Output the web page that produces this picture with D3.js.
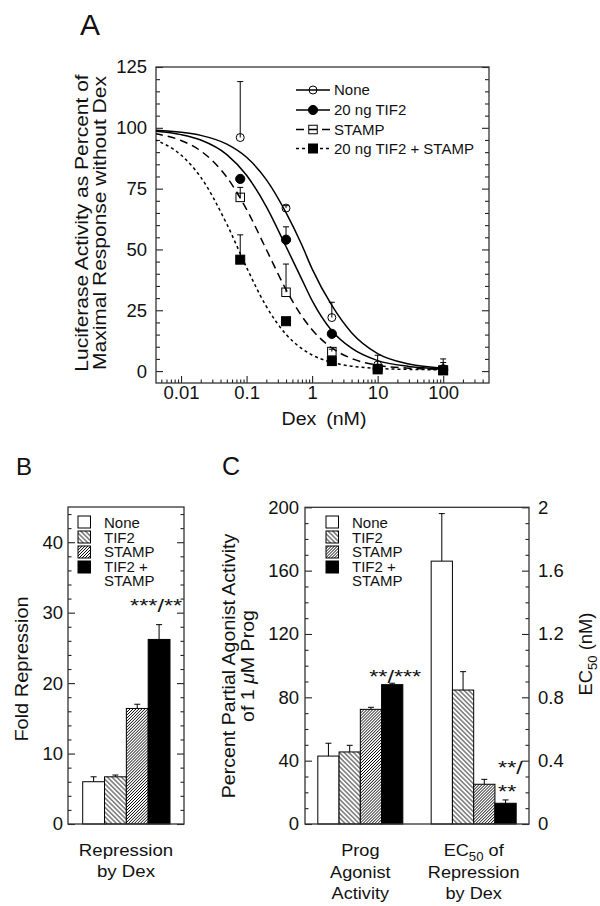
<!DOCTYPE html>
<html>
<head>
<meta charset="utf-8">
<script src="https://cdn.jsdelivr.net/npm/d3@7"></script>
<style>
  body { margin: 0; background: #fff; }
  svg { display: block; }
  text { font-family: "Liberation Sans", Arial, Helvetica, sans-serif; fill: #111; }
</style>
</head>
<body>
<div id="chart"></div>
<script>
// ---- panel A: dose response to Dex (nM) ----
const doses = [0.08, 0.4, 2, 10, 100];
const seriesNames = ["None", "20 ng TIF2", "STAMP", "20 ng TIF2 + STAMP"];
const noneVals = [96, 67, 22, 2.5, 1];
const noneErrTop = [119, 68, 28.3, 6.5, 5];
const tif2Vals = [79, 54, 15.3, 1, 0.5];
const tif2ErrTop = [80, 59.3, 16, 2, 3.5];
const stampVals = [71.4, 32.4, 8, 1, 0.3];
const stampErrTop = [75.5, 44, 9, 1.5, 1];
const bothVals = [45.8, 20.5, 4.1, 0.7, 0.3];
const bothErrTop = [56, 21, 5, 2, 1];

// fitted curves
const curveDoses = [0.004, 0.01, 0.02, 0.05, 0.1, 0.2, 0.4, 0.7, 1, 2, 4, 10, 30, 100];
const noneCurve = [99.0, 98.2, 96.9, 93.3, 87.9, 78.7, 65.1, 51.7, 42.0, 27.0, 15.8, 7.2, 2.9, 1.2];
const tif2Curve = [98.6, 97.2, 95.0, 89.0, 80.5, 67.6, 51.2, 37.6, 29.0, 16.6, 9.4, 4.3, 1.9, 0.9];
const stampCurve = [97.6, 94.8, 90.5, 79.7, 66.5, 50.0, 33.5, 22.5, 17.0, 9.5, 5.2, 2.4, 1.2, 0.7];
const bothCurve = [95.1, 88.8, 79.7, 60.4, 42.6, 26.6, 15.1, 9.2, 6.6, 3.6, 2.0, 1.1, 0.7, 0.55];

const xTicksA = [0.01, 0.1, 1, 10, 100];
const xTickLabelsA = ["0.01", "0.1", "1", "10", "100"];
const yTicksA = [0, 25, 50, 75, 100, 125];

// ---- panel B / C bars ----
const groups = ["None", "TIF2", "STAMP", "TIF2 + STAMP"];
const foldRep = [6.0, 6.7, 16.4, 26.2];
const foldRepErr = [0.7, 0.25, 0.6, 2.1];
const yTicksB = [0, 10, 20, 30, 40];

const cGroups = ["agonist", "ec50"];
const progAgonist = [42.9, 45.5, 72.4, 88.0];
const progAgonistErr = [8.1, 4.2, 1.3, 0.9];
const ec50 = [1.66, 0.846, 0.251, 0.131];
const ec50Err = [0.30, 0.116, 0.031, 0.021];
const yTicksC = [0, 40, 80, 120, 160, 200];
const yTicksC2 = [0, 0.4, 0.8, 1.2, 1.6, 2];
const yTickLabelsC2 = ["0", "0.4", "0.8", "1.2", "1.6", "2"];

const W = 600, H = 906;
const TICK_FS = 18.5;
const svg = d3.select("#chart").append("svg").attr("width", W).attr("height", H);
const defs = svg.append("defs");

// hatch patterns for TIF2 (\\\) and STAMP (///)
function hatch(id, angle, gap, w) {
  const p = defs.append("pattern").attr("id", id)
    .attr("patternUnits", "userSpaceOnUse")
    .attr("width", gap).attr("height", gap)
    .attr("patternTransform", `rotate(${angle})`);
  p.append("rect").attr("width", gap).attr("height", gap).attr("fill", "#fff");
  p.append("line").attr("x1", 0).attr("x2", gap).attr("y1", gap / 2).attr("y2", gap / 2)
    .attr("stroke", "#000").attr("stroke-width", w);
}
hatch("tif2Hatch", 45, 3.3, 0.8);
hatch("stampHatch", -45, 2.1, 0.7);
const barFills = ["#fff", "url(#tif2Hatch)", "url(#stampHatch)", "#000"];

function addText(g, x, y, size, opts) {
  opts = opts || {};
  return g.append("text")
    .attr("transform", `translate(${x},${y}) rotate(${opts.rot || 0}) scale(${opts.sx || 1},1)`)
    .attr("text-anchor", opts.anchor || "middle")
    .style("font-size", size + "px");
}

function styleAxis(g, size, sx) {
  g.select(".domain").remove();
  g.selectAll(".tick line").attr("stroke", "#222").attr("stroke-width", 1.1);
  g.selectAll(".tick text").style("font-size", size + "px").attr("fill", "#111")
    .attr("transform", `scale(${sx},1)`);
}

function frame(g, x0, y0, x1, y1) {
  g.append("rect").attr("x", x0).attr("y", y0).attr("width", x1 - x0).attr("height", y1 - y0)
    .attr("fill", "none").attr("stroke", "#333").attr("stroke-width", 1.3);
}

// ================= A =================
const xA = d3.scaleLog().domain([0.00415, 500]).range([156, 489]);
const yA = d3.scaleLinear().domain([-4.9, 125]).range([383, 67]);
const gA = svg.append("g");

const minorXA = xA.ticks().filter(v => !xTicksA.includes(v) && v < 480);
gA.append("g").attr("transform", "translate(0,383)")
  .call(d3.axisBottom(xA).tickValues(xTicksA).tickSize(-7).tickPadding(3).tickFormat((d, i) => xTickLabelsA[i]))
  .call(g => styleAxis(g, TICK_FS, 1));
gA.append("g").attr("transform", "translate(0,383)")
  .call(d3.axisBottom(xA).tickValues(minorXA).tickSize(-3.5).tickFormat(""))
  .call(g => styleAxis(g, TICK_FS, 1));

const minorYA = d3.range(0, 126, 5).filter(v => v % 25 !== 0);
gA.append("g").attr("transform", "translate(156,0)")
  .call(d3.axisLeft(yA).tickValues(yTicksA).tickSize(-7).tickPadding(9))
  .call(g => styleAxis(g, TICK_FS, 1));
gA.append("g").attr("transform", "translate(156,0)")
  .call(d3.axisLeft(yA).tickValues(minorYA).tickSize(-4).tickFormat(""))
  .call(g => styleAxis(g, TICK_FS, 1));
gA.append("g").attr("transform", "translate(489,0)")
  .call(d3.axisRight(yA).tickValues(yTicksA).tickSize(-7).tickFormat(""))
  .call(g => styleAxis(g, TICK_FS, 1));
gA.append("g").attr("transform", "translate(489,0)")
  .call(d3.axisRight(yA).tickValues(minorYA).tickSize(-4).tickFormat(""))
  .call(g => styleAxis(g, TICK_FS, 1));
frame(gA, 156, 67, 489, 383);

defs.append("clipPath").attr("id", "clipA").append("rect")
  .attr("x", 156).attr("y", 67).attr("width", 333).attr("height", 316);

const curves = [noneCurve, tif2Curve, stampCurve, bothCurve];
const valsA = [noneVals, tif2Vals, stampVals, bothVals];
const errA = [noneErrTop, tif2ErrTop, stampErrTop, bothErrTop];
const dashA = [null, null, "8,5", "3,3"];
const shapeA = ["circle", "circle", "square", "square"];
const filledA = [false, true, false, true];

const lineA = d3.line()
  .x((d, i) => xA(curveDoses[i]))
  .y(d => yA(d))
  .curve(d3.curveMonotoneX);

const plotA = gA.append("g").attr("clip-path", "url(#clipA)");
curves.forEach((c, s) => {
  plotA.append("path").datum(c).attr("d", lineA)
    .attr("fill", "none").attr("stroke", "#000").attr("stroke-width", 1.5)
    .attr("stroke-dasharray", dashA[s]);
});

function marker(g, shape, filled, cx, cy) {
  if (shape === "circle") {
    g.append("circle").attr("cx", cx).attr("cy", cy).attr("r", filled ? 4.6 : 4)
      .attr("fill", filled ? "#000" : "none").attr("stroke", "#000").attr("stroke-width", 1);
  } else {
    const s = filled ? 9 : 8.5;
    g.append("rect").attr("x", cx - s / 2).attr("y", cy - s / 2).attr("width", s).attr("height", s)
      .attr("fill", filled ? "#000" : "none").attr("stroke", "#000").attr("stroke-width", 1);
  }
}

valsA.forEach((vals, s) => {
  vals.forEach((v, i) => {
    const cx = xA(doses[i]);
    const top = yA(errA[s][i]);
    plotA.append("line").attr("x1", cx).attr("x2", cx).attr("y1", yA(v)).attr("y2", top)
      .attr("stroke", "#000").attr("stroke-width", 1);
    plotA.append("line").attr("x1", cx - 3).attr("x2", cx + 3).attr("y1", top).attr("y2", top)
      .attr("stroke", "#000").attr("stroke-width", 1);
  });
});
valsA.forEach((vals, s) => {
  vals.forEach((v, i) => marker(plotA, shapeA[s], filledA[s], xA(doses[i]), yA(v)));
});

// legend A
const legRowsA = [90, 110, 129.5, 148.5];
seriesNames.forEach((name, s) => {
  const y = legRowsA[s];
  gA.append("line").attr("x1", 296).attr("x2", 330).attr("y1", y).attr("y2", y)
    .attr("stroke", "#000").attr("stroke-width", 1.3).attr("stroke-dasharray", dashA[s]);
  marker(gA, shapeA[s], filledA[s], 313, y);
  addText(gA, 334, y + 5.3, 15, { anchor: "start" }).text(name);
});

addText(gA, 90, 35, 30, { anchor: "middle" }).text("A");
addText(gA, 88, 223, 17.5, { rot: -90, sx: 1.2 }).text("Luciferase Activity as Percent of");
addText(gA, 106, 223, 17.5, { rot: -90, sx: 1.2 }).text("Maximal Response without Dex");
addText(gA, 324, 425, 17.5, { sx: 1.12 }).text("Dex\u2002(nM)");

// ================= B =================
const gB = svg.append("g");
const xB = d3.scaleBand().domain(groups).range([82.7, 170]);
const yB = d3.scaleLinear().domain([0, 45]).range([824, 507]);
const minorYB = d3.range(0, 45, 2).filter(v => v % 10 !== 0);

gB.append("g").attr("transform", "translate(68,0)")
  .call(d3.axisLeft(yB).tickValues(yTicksB).tickSize(-7).tickPadding(5))
  .call(g => styleAxis(g, TICK_FS, 1));
gB.append("g").attr("transform", "translate(68,0)")
  .call(d3.axisLeft(yB).tickValues(minorYB).tickSize(-3.5).tickFormat(""))
  .call(g => styleAxis(g, TICK_FS, 1));
gB.append("g").attr("transform", "translate(184,0)")
  .call(d3.axisRight(yB).tickValues(yTicksB).tickSize(-7).tickFormat(""))
  .call(g => styleAxis(g, TICK_FS, 1));
gB.append("g").attr("transform", "translate(184,0)")
  .call(d3.axisRight(yB).tickValues(minorYB).tickSize(-3.5).tickFormat(""))
  .call(g => styleAxis(g, TICK_FS, 1));

function errBar(g, cx, yTop, yErr) {
  g.append("line").attr("x1", cx).attr("x2", cx).attr("y1", yTop).attr("y2", yErr)
    .attr("stroke", "#000").attr("stroke-width", 1);
  g.append("line").attr("x1", cx - 3).attr("x2", cx + 3).attr("y1", yErr).attr("y2", yErr)
    .attr("stroke", "#000").attr("stroke-width", 1);
}

groups.forEach((grp, i) => {
  const x0 = xB(grp), bw = xB.bandwidth();
  errBar(gB, x0 + bw / 2, yB(foldRep[i]), yB(foldRep[i] + foldRepErr[i]));
  gB.append("rect").attr("x", x0).attr("y", yB(foldRep[i]))
    .attr("width", bw).attr("height", yB(0) - yB(foldRep[i]))
    .attr("fill", barFills[i]).attr("stroke", "#000").attr("stroke-width", 1);
});
frame(gB, 68, 507, 184, 824);

function barLegend(g, sx, tx) {
  const swY = [516, 531, 546, 561];
  const rows = ["None", "TIF2", "STAMP", "TIF2 +", "STAMP"];
  const baseY = [528, 543, 557, 572, 586];
  groups.forEach((grp, i) => {
    g.append("rect").attr("x", sx).attr("y", swY[i]).attr("width", 12.5).attr("height", 12)
      .attr("fill", barFills[i]).attr("stroke", "#000").attr("stroke-width", 1);
  });
  rows.forEach((r, i) => addText(g, tx, baseY[i], 15, { anchor: "start" }).text(r));
}
barLegend(gB, 78, 104);

addText(gB, xB("TIF2 + STAMP") + xB.bandwidth() / 2 - 3, 612, 18, { sx: 1.3 }).text("***/**");
addText(gB, 24, 475, 24, { anchor: "middle" }).text("B");
addText(gB, 28, 669, 17.5, { rot: -90, sx: 1.14 }).text("Fold Repression");
addText(gB, 126, 856, 16.5, { sx: 1.13 }).text("Repression");
addText(gB, 126, 877, 16.5, { sx: 1.13 }).text("by Dex");

// ================= C =================
const gC = svg.append("g");
const xC = d3.scaleBand().domain(cGroups).range([305, 529]).paddingInner(0.25).paddingOuter(0.113);
const xCin = d3.scaleBand().domain(groups).range([0, xC.bandwidth()]);
const yC = d3.scaleLinear().domain([0, 200]).range([824, 507.3]);
const yC2 = d3.scaleLinear().domain([0, 2]).range([824, 507.3]);
const minorYC = d3.range(0, 201, 10).filter(v => v % 40 !== 0);
const minorYC2 = minorYC.map(v => v / 100);

gC.append("g").attr("transform", "translate(305,0)")
  .call(d3.axisLeft(yC).tickValues(yTicksC).tickSize(-7).tickPadding(6))
  .call(g => styleAxis(g, TICK_FS, 1));
gC.append("g").attr("transform", "translate(305,0)")
  .call(d3.axisLeft(yC).tickValues(minorYC).tickSize(-3.5).tickFormat(""))
  .call(g => styleAxis(g, TICK_FS, 1));
gC.append("g").attr("transform", "translate(529,0)")
  .call(d3.axisRight(yC2).tickValues(yTicksC2).tickSize(-7).tickPadding(9).tickFormat((d, i) => yTickLabelsC2[i]))
  .call(g => styleAxis(g, TICK_FS, 1));
gC.append("g").attr("transform", "translate(529,0)")
  .call(d3.axisRight(yC2).tickValues(minorYC2).tickSize(-3.5).tickFormat(""))
  .call(g => styleAxis(g, TICK_FS, 1));

const cData = { agonist: [progAgonist, progAgonistErr, yC], ec50: [ec50, ec50Err, yC2] };
cGroups.forEach(cg => {
  const [vals, errs, ys] = cData[cg];
  groups.forEach((grp, i) => {
    const x0 = xC(cg) + xCin(grp), bw = xCin.bandwidth();
    errBar(gC, x0 + bw / 2, ys(vals[i]), ys(vals[i] + errs[i]));
    gC.append("rect").attr("x", x0).attr("y", ys(vals[i]))
      .attr("width", bw).attr("height", ys(0) - ys(vals[i]))
      .attr("fill", barFills[i]).attr("stroke", "#000").attr("stroke-width", 1);
  });
});
frame(gC, 305, 507.3, 529, 824);
barLegend(gC, 326, 352);

const last = "TIF2 + STAMP";
const cxAg = xC("agonist") + xCin(last) + xCin.bandwidth() / 2;
const cxEc = xC("ec50") + xCin(last) + xCin.bandwidth() / 2;
addText(gC, cxAg + 3, 683, 18, { sx: 1.3 }).text("**/***");
addText(gC, cxEc - 7.5, 774, 18, { anchor: "start", sx: 1.3 }).text("**/");
addText(gC, cxEc - 7.5, 798, 18, { anchor: "start", sx: 1.3 }).text("**");

addText(gC, 231, 475, 25, { anchor: "middle" }).text("C");

addText(gC, 235, 666, 17.5, { rot: -90, sx: 1.12 }).text("Percent Partial Agonist Activity");
const l2 = addText(gC, 254, 666, 17.5, { rot: -90, sx: 1.12 });
l2.append("tspan").text("of 1 ");
l2.append("tspan").style("font-style", "italic").text("\u03bc");
l2.append("tspan").text("M Prog");

const rt = addText(gC, 592, 654, 17.5, { rot: -90, sx: 1.05 });
rt.append("tspan").text("EC");
rt.append("tspan").attr("dy", 5).style("font-size", "12.5px").text("50");
rt.append("tspan").attr("dy", -5).text(" (nM)");

const cxG1 = xC("agonist") + xC.bandwidth() / 2;
const cxG2 = xC("ec50") + xC.bandwidth() / 2;
addText(gC, cxG1, 856, 16.5, { sx: 1.1 }).text("Prog");
addText(gC, cxG1, 877.5, 16.5, { sx: 1.1 }).text("Agonist");
addText(gC, cxG1, 899, 16.5, { sx: 1.1 }).text("Activity");
const ec = addText(gC, cxG2, 856, 16.5, { sx: 1.1 });
ec.append("tspan").text("EC");
ec.append("tspan").attr("dy", 5).style("font-size", "12px").text("50");
ec.append("tspan").attr("dy", -5).text(" of");
addText(gC, cxG2, 877.5, 16.5, { sx: 1.1 }).text("Repression");
addText(gC, cxG2, 899, 16.5, { sx: 1.1 }).text("by Dex");
</script>
</body>
</html>
